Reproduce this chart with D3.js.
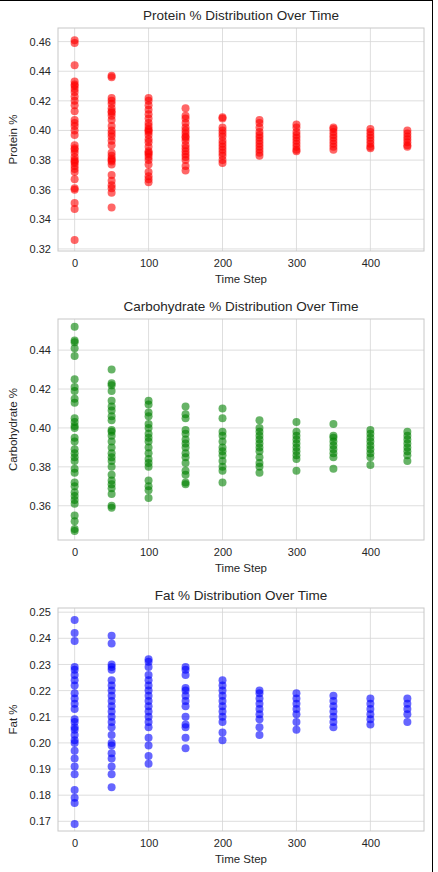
<!DOCTYPE html>
<html><head><meta charset="utf-8">
<script src="https://cdn.jsdelivr.net/npm/d3@7"></script>
<style>body{margin:0;background:#fff;font-family:"Liberation Sans",Arial,sans-serif}</style>
</head><body>
<script>
var steps = [0,50,100,150,200,250,300,350,400,450];

var protein = [
  [0.461,0.459,0.444,0.433,0.431,0.430,0.428,0.426,0.423,0.420,0.417,0.413,0.407,0.405,0.403,0.400,0.397,0.390,0.388,0.387,0.385,0.382,0.380,0.379,0.378,0.376,0.374,0.372,0.367,0.361,0.360,0.351,0.347,0.326],
  [0.437,0.436,0.422,0.420,0.418,0.415,0.413,0.412,0.410,0.407,0.403,0.400,0.398,0.396,0.393,0.390,0.385,0.383,0.381,0.380,0.379,0.377,0.370,0.366,0.363,0.361,0.358,0.348],
  [0.422,0.420,0.417,0.414,0.411,0.408,0.405,0.403,0.401,0.400,0.399,0.397,0.394,0.392,0.389,0.386,0.385,0.384,0.382,0.380,0.377,0.372,0.369,0.367,0.365],
  [0.415,0.410,0.408,0.405,0.402,0.400,0.398,0.396,0.395,0.393,0.390,0.388,0.386,0.384,0.382,0.380,0.376,0.373],
  [0.409,0.408,0.402,0.400,0.398,0.396,0.393,0.391,0.389,0.387,0.385,0.383,0.380,0.378],
  [0.407,0.405,0.402,0.399,0.397,0.395,0.393,0.391,0.389,0.387,0.385,0.383],
  [0.404,0.402,0.399,0.397,0.395,0.393,0.391,0.389,0.387,0.386],
  [0.402,0.401,0.399,0.397,0.395,0.393,0.391,0.389,0.387],
  [0.401,0.399,0.397,0.395,0.393,0.391,0.389,0.388],
  [0.400,0.398,0.396,0.394,0.392,0.390,0.389]
];
var carbs = [
  [0.452,0.445,0.444,0.441,0.437,0.425,0.421,0.419,0.415,0.413,0.405,0.403,0.401,0.400,0.395,0.393,0.389,0.387,0.385,0.383,0.379,0.377,0.372,0.370,0.367,0.365,0.363,0.361,0.355,0.352,0.348,0.347],
  [0.430,0.423,0.422,0.419,0.414,0.411,0.409,0.406,0.404,0.399,0.398,0.396,0.393,0.390,0.387,0.385,0.383,0.380,0.376,0.373,0.371,0.369,0.366,0.360,0.359],
  [0.414,0.412,0.408,0.406,0.402,0.400,0.397,0.395,0.393,0.390,0.387,0.384,0.382,0.380,0.373,0.370,0.368,0.364],
  [0.411,0.407,0.405,0.399,0.397,0.394,0.392,0.390,0.387,0.385,0.382,0.378,0.376,0.372,0.371],
  [0.410,0.405,0.398,0.396,0.393,0.390,0.388,0.386,0.383,0.380,0.378,0.372],
  [0.404,0.400,0.398,0.396,0.394,0.392,0.390,0.388,0.385,0.382,0.380,0.377],
  [0.403,0.398,0.396,0.394,0.392,0.390,0.388,0.386,0.384,0.378],
  [0.402,0.396,0.395,0.393,0.391,0.389,0.387,0.385,0.379],
  [0.399,0.397,0.395,0.393,0.391,0.389,0.387,0.385,0.381],
  [0.398,0.396,0.394,0.392,0.390,0.388,0.386,0.383]
];
var fat = [
  [0.247,0.242,0.239,0.229,0.228,0.226,0.224,0.222,0.219,0.217,0.215,0.213,0.209,0.208,0.206,0.205,0.203,0.201,0.200,0.197,0.194,0.191,0.188,0.182,0.179,0.177,0.169],
  [0.241,0.238,0.230,0.229,0.228,0.224,0.222,0.220,0.218,0.216,0.214,0.212,0.210,0.208,0.206,0.203,0.200,0.199,0.196,0.194,0.191,0.188,0.183],
  [0.232,0.231,0.229,0.226,0.224,0.222,0.220,0.218,0.216,0.214,0.212,0.210,0.208,0.206,0.202,0.199,0.195,0.192],
  [0.229,0.228,0.226,0.221,0.220,0.218,0.216,0.214,0.210,0.207,0.206,0.202,0.198],
  [0.224,0.222,0.220,0.218,0.216,0.214,0.212,0.210,0.208,0.204,0.201],
  [0.220,0.219,0.217,0.215,0.213,0.211,0.209,0.206,0.203],
  [0.219,0.217,0.215,0.213,0.211,0.208,0.205],
  [0.218,0.216,0.214,0.212,0.210,0.208,0.206],
  [0.217,0.215,0.213,0.211,0.209,0.207],
  [0.217,0.215,0.213,0.211,0.208]
];

var xTicks = [0,100,200,300,400];

var panels = [
  {title:"Protein % Distribution Over Time", ylab:"Protein %", vals:protein, color:"red",
   top:28, bottom:251, dom:[0.3186,0.4692], ticks:[0.32,0.34,0.36,0.38,0.40,0.42,0.44,0.46], fmt:".2f"},
  {title:"Carbohydrate % Distribution Over Time", ylab:"Carbohydrate %", vals:carbs, color:"green",
   top:319, bottom:540, dom:[0.3424,0.456], ticks:[0.36,0.38,0.40,0.42,0.44], fmt:".2f"},
  {title:"Fat % Distribution Over Time", ylab:"Fat %", vals:fat, color:"blue",
   top:608, bottom:831, dom:[0.1663,0.2516], ticks:[0.17,0.18,0.19,0.20,0.21,0.22,0.23,0.24,0.25], fmt:".2f"}
];

var W = 438, H = 872, left = 58, right = 424;
var svg = d3.select("body").append("svg").attr("width",W).attr("height",H);

var x = d3.scaleLinear().domain([-22.5,472.5]).range([left,right]);

panels.forEach(function(p){
  var y = d3.scaleLinear().domain(p.dom).range([p.bottom,p.top]);
  var g = svg.append("g");
  // grid
  g.selectAll(".gx").data(xTicks).enter().append("line")
    .attr("x1",function(d){return x(d);}).attr("x2",function(d){return x(d);})
    .attr("y1",p.top).attr("y2",p.bottom).attr("stroke","#d6d6d6").attr("stroke-width",0.8);
  g.selectAll(".gy").data(p.ticks).enter().append("line")
    .attr("y1",function(d){return y(d);}).attr("y2",function(d){return y(d);})
    .attr("x1",left).attr("x2",right).attr("stroke","#d6d6d6").attr("stroke-width",0.8);
  g.append("rect").attr("x",left).attr("y",p.top).attr("width",right-left).attr("height",p.bottom-p.top)
    .attr("fill","none").attr("stroke","#c8c8c8").attr("stroke-width",1);

  var ax = g.append("g").attr("transform","translate(0,"+p.bottom+")")
    .call(d3.axisBottom(x).tickValues(xTicks).tickSize(0).tickPadding(8));
  var ay = g.append("g").attr("transform","translate("+left+",0)")
    .call(d3.axisLeft(y).tickValues(p.ticks).tickFormat(d3.format(p.fmt)).tickSize(0).tickPadding(7));
  [ax,ay].forEach(function(a){
    a.select(".domain").remove();
    a.selectAll("text").attr("font-family","Liberation Sans, Arial, sans-serif")
      .attr("font-size",11).attr("fill","#262626");
  });

  var pts = [];
  p.vals.forEach(function(arr,i){ arr.forEach(function(v){ pts.push([steps[i],v]); }); });
  g.selectAll("circle").data(pts).enter().append("circle")
    .attr("cx",function(d){return x(d[0]);}).attr("cy",function(d){return y(d[1]);})
    .attr("r",4).attr("fill",p.color).attr("fill-opacity",0.6);

  g.append("text").attr("x",(left+right)/2).attr("y",p.top-8).attr("text-anchor","middle")
    .attr("font-size",13.5).attr("fill","#262626").text(p.title);
  g.append("text").attr("x",(left+right)/2).attr("y",p.bottom+32).attr("text-anchor","middle")
    .attr("font-size",11.5).attr("fill","#262626").text("Time Step");
  g.append("text").attr("transform","translate(17,"+((p.top+p.bottom)/2)+") rotate(-90)")
    .attr("text-anchor","middle").attr("font-size",11.5).attr("fill","#262626").text(p.ylab);
});

// screenshot frame edges
svg.append("line").attr("x1",0).attr("x2",433).attr("y1",0.5).attr("y2",0.5).attr("stroke","#000");
svg.append("line").attr("x1",432.5).attr("x2",432.5).attr("y1",0).attr("y2",H).attr("stroke","#000");
</script>
</body></html>
